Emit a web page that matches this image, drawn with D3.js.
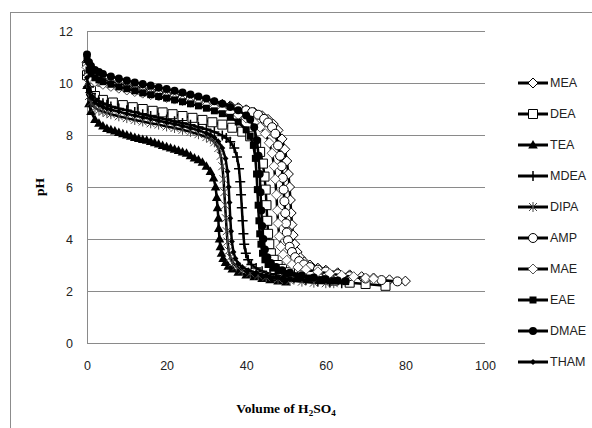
<!DOCTYPE html>
<html>
<head>
<meta charset="utf-8">
<script src="https://cdn.jsdelivr.net/npm/d3@7"></script>
<style>
body { margin: 0; background: #fff; }
</style>
</head>
<body>
<div id="chart"></div>
<script>
// size of SVG
var w = 592;
var h = 428;

// legend order = drawing order
var names = ["MEA", "DEA", "TEA", "MDEA", "DIPA", "AMP", "MAE", "EAE", "DMAE", "THAM"];
var xTicks = [0, 20, 40, 60, 80, 100];
var yTicks = [0, 2, 4, 6, 8, 10, 12];

// [volume of H2SO4, pH]
var meaData = [[0,10.8],[0.5,10.5],[1,10.35],[2,10.22],[3,10.15],[4,10.1],[6,10.02],[8,9.95],[10,9.88],[12,9.82],[14,9.76],[16,9.7],[18,9.64],[20,9.58],[22,9.53],[24,9.47],[26,9.42],[28,9.36],[30,9.3],[32,9.24],[34,9.18],[36,9.12],[38,9.05],[40,8.97],[42,8.87],[44,8.74],[45.5,8.6],[46.8,8.42],[48,8.18],[49,7.85],[49.7,7.45],[50.2,7.0],[50.6,6.5],[50.9,6.0],[51.1,5.5],[51.3,5.0],[51.5,4.55],[51.8,4.15],[52.2,3.8],[52.8,3.5],[53.6,3.28],[54.6,3.12],[56,3.0],[58,2.88],[60,2.8],[63,2.7],[66,2.62],[69,2.55],[72,2.5],[76,2.43],[80,2.38]];
var deaData = [[0,10.3],[1,9.7],[2,9.5],[4,9.35],[6.5,9.25],[9,9.15],[11.5,9.07],[14,9.0],[16.5,8.93],[19,8.87],[21.5,8.8],[24,8.73],[26.5,8.66],[29,8.58],[31.5,8.49],[34,8.4],[36.5,8.28],[39,8.13],[41,7.95],[42.5,7.7],[43.5,7.35],[44.2,6.9],[44.6,6.4],[44.9,5.9],[45.1,5.3],[45.3,4.7],[45.5,4.2],[45.8,3.8],[46.2,3.45],[46.9,3.2],[47.9,3.0],[49,2.85],[51,2.72],[54,2.6],[58,2.48],[62,2.4],[66,2.32],[70,2.27],[75,2.2]];
var teaData = [[0,9.9],[0.5,9.2],[1,8.9],[2,8.6],[3,8.45],[4,8.35],[5,8.25],[6,8.2],[7,8.15],[8,8.1],[9,8.05],[10,8.0],[11,7.95],[12,7.9],[13,7.87],[14,7.83],[15,7.8],[16,7.75],[17,7.7],[18,7.65],[19,7.6],[20,7.55],[21,7.5],[22,7.45],[23,7.4],[24,7.35],[25,7.3],[26,7.2],[27,7.12],[28,7.05],[29,6.95],[30,6.8],[31,6.6],[31.8,6.35],[32.3,6.0],[32.6,5.6],[32.8,5.2],[33,4.8],[33.1,4.4],[33.3,4.0],[33.5,3.7],[33.8,3.45],[34.2,3.25],[34.8,3.1],[35.5,2.95],[36.5,2.85],[38,2.72],[40,2.62],[42,2.55],[44,2.48],[46,2.43],[48,2.38],[50,2.35]];
var mdeaData = [[0,10.3],[0.5,9.85],[1,9.6],[2,9.4],[3,9.3],[4,9.22],[5,9.16],[6,9.1],[8,9.02],[10,8.95],[12,8.88],[14,8.8],[16,8.73],[18,8.66],[20,8.6],[22,8.53],[24,8.46],[26,8.39],[28,8.31],[30,8.22],[32,8.12],[34,7.98],[35,7.88],[36,7.74],[37,7.5],[37.7,7.15],[38.2,6.7],[38.5,6.2],[38.7,5.7],[38.9,5.2],[39.1,4.7],[39.3,4.2],[39.5,3.8],[39.9,3.45],[40.5,3.2],[41.3,3.02],[42.5,2.88],[44,2.76],[46,2.66],[49,2.56],[52,2.48],[55,2.42],[58,2.37],[61,2.33],[64,2.3]];
var dipaData = [[0,10.0],[0.5,9.5],[1,9.25],[2,9.05],[3,8.95],[4,8.9],[5,8.85],[6,8.8],[8,8.72],[10,8.65],[12,8.58],[14,8.52],[16,8.45],[18,8.4],[20,8.33],[22,8.27],[24,8.2],[26,8.12],[28,8.03],[30,7.92],[31,7.85],[32,7.72],[33,7.5],[33.6,7.2],[34,6.8],[34.3,6.3],[34.5,5.8],[34.7,5.3],[34.9,4.8],[35.1,4.3],[35.3,3.9],[35.6,3.55],[36,3.3],[36.6,3.1],[37.5,2.95],[39,2.8],[41,2.68],[43,2.6],[45,2.53],[48,2.46],[51,2.4],[54,2.36],[57,2.32],[60,2.3],[62,2.3]];
var ampData = [[0,10.7],[0.5,10.4],[1,10.25],[2,10.12],[3,10.05],[4,10.0],[6,9.92],[8,9.85],[10,9.78],[12,9.72],[14,9.66],[16,9.6],[18,9.55],[20,9.5],[22,9.45],[24,9.4],[26,9.35],[28,9.3],[30,9.25],[32,9.2],[34,9.14],[36,9.08],[38,9.02],[40,8.95],[41.5,8.88],[43,8.78],[44.5,8.62],[45.5,8.48],[46.5,8.3],[47.3,8.05],[48,7.6],[48.5,7.2],[48.9,6.8],[49.2,6.35],[49.4,5.9],[49.6,5.45],[49.8,5.0],[50,4.6],[50.2,4.25],[50.5,3.95],[50.9,3.7],[51.5,3.5],[52.3,3.3],[53.3,3.15],[54.5,3.02],[56,2.92],[58,2.82],[60,2.75],[63,2.65],[66,2.57],[70,2.48],[74,2.42],[78,2.37]];
var maeData = [[0,10.6],[0.5,10.3],[1,10.15],[2,10.05],[4,9.95],[6,9.87],[8,9.8],[10,9.73],[12,9.67],[14,9.61],[16,9.55],[18,9.5],[20,9.44],[22,9.38],[24,9.32],[26,9.26],[28,9.2],[30,9.13],[32,9.05],[34,8.97],[36,8.88],[38,8.78],[40,8.65],[42,8.48],[43.5,8.3],[44.8,8.05],[45.8,7.7],[46.5,7.3],[47,6.8],[47.3,6.3],[47.6,5.7],[47.8,5.1],[48,4.6],[48.3,4.1],[48.7,3.7],[49.3,3.4],[50.2,3.18],[51.5,3.02],[53,2.92],[55,2.83],[58,2.74],[61,2.67],[64,2.6],[67,2.55],[70,2.5],[72,2.47]];
var eaeData = [[0,10.9],[0.5,10.5],[1,10.35],[2,10.2],[3,10.12],[4,10.05],[6,9.95],[8,9.85],[10,9.78],[12,9.7],[14,9.62],[16,9.55],[18,9.48],[20,9.42],[22,9.35],[24,9.28],[26,9.2],[28,9.12],[30,9.03],[32,8.93],[34,8.82],[36,8.68],[38,8.5],[40,8.2],[41,7.95],[41.8,7.6],[42.3,7.1],[42.6,6.5],[42.8,5.9],[43,5.3],[43.2,4.7],[43.4,4.2],[43.7,3.8],[44.1,3.45],[44.7,3.2],[45.5,3.02],[46.7,2.88],[48,2.78],[50,2.68],[53,2.58],[56,2.5],[59,2.44],[62,2.4],[65,2.36]];
var dmaeData = [[0,11.1],[0.5,10.8],[1,10.65],[2,10.5],[3,10.42],[4,10.35],[6,10.25],[8,10.17],[10,10.1],[12,10.02],[14,9.96],[16,9.9],[18,9.83],[20,9.77],[22,9.7],[24,9.63],[26,9.56],[28,9.48],[30,9.4],[32,9.3],[34,9.2],[36,9.08],[38,8.95],[40,8.75],[41,8.6],[42,8.3],[42.7,7.8],[43.1,7.2],[43.4,6.5],[43.6,5.8],[43.8,5.1],[44,4.5],[44.3,4.0],[44.7,3.6],[45.3,3.3],[46.2,3.08],[47.5,2.92],[49,2.8],[51,2.7],[54,2.6],[57,2.52],[60,2.45],[63,2.4],[65,2.38]];
var thamData = [[0,10.2],[0.5,9.7],[1,9.45],[2,9.25],[3,9.15],[4,9.08],[5,9.02],[6,8.97],[8,8.9],[10,8.82],[12,8.75],[14,8.68],[16,8.62],[18,8.55],[20,8.48],[22,8.42],[24,8.35],[26,8.27],[28,8.18],[30,8.07],[31,8.0],[32,7.9],[33,7.75],[34,7.5],[34.8,7.1],[35.3,6.6],[35.6,6.0],[35.8,5.4],[36,4.8],[36.2,4.3],[36.4,3.9],[36.8,3.5],[37.3,3.25],[38,3.05],[39,2.92],[40.5,2.8],[42.5,2.7],[45,2.6],[48,2.52],[51,2.45],[55,2.4]];

var allData = [meaData, deaData, teaData, mdeaData, dipaData, ampData, maeData, eaeData, dmaeData, thamData];
// marker kind for each series (same order as names)
var markerKinds = ["diamond", "square", "triangle", "plus", "star", "circle", "diamondGray", "squareFill", "circleFill", "diamondFill"];

var svg = d3.select("#chart")
	.append("svg")
	.attr("width", w)
	.attr("height", h)
	.attr("xmlns", "http://www.w3.org/2000/svg");

// chart area border (runs off the right and bottom edges)
svg.append("rect")
	.attr("x", 10.5).attr("y", 12.5)
	.attr("width", w + 20).attr("height", h + 20)
	.attr("fill", "#fff")
	.attr("stroke", "#8c8c8c");

// plot area edges, in pixels ("top" is taken by window.top)
var pLeft = 87, pRight = 485, pTop = 31, pBottom = 343;
var x = d3.scaleLinear().domain([0, 100]).range([pLeft, pRight]);
var y = d3.scaleLinear().domain([0, 12]).range([pBottom, pTop]);

// horizontal grid lines
var grid = svg.append("g")
	.attr("transform", "translate(" + pLeft + ",0)")
	.call(d3.axisLeft(y).tickValues(yTicks).tickSize(-(pRight - pLeft)).tickFormat(""));
grid.select(".domain").remove();
grid.selectAll("line").attr("stroke", "#8a8a8a").attr("shape-rendering", "crispEdges");

// vertical axis line
svg.append("line")
	.attr("x1", pLeft + 0.5).attr("x2", pLeft + 0.5)
	.attr("y1", pTop).attr("y2", pBottom)
	.attr("stroke", "#8a8a8a");

var tickFont = "'Liberation Sans', Arial, sans-serif";
var yAxis = svg.append("g")
	.attr("transform", "translate(" + pLeft + ",0)")
	.call(d3.axisLeft(y).tickValues(yTicks).tickSize(0).tickPadding(14));
yAxis.select(".domain").remove();
yAxis.selectAll("text").attr("font-family", tickFont).attr("font-size", 12.5).attr("fill", "#222");

var xAxis = svg.append("g")
	.attr("transform", "translate(0," + pBottom + ")")
	.call(d3.axisBottom(x).tickValues(xTicks).tickSize(0).tickPadding(18));
xAxis.select(".domain").remove();
xAxis.selectAll("text").attr("font-family", tickFont).attr("font-size", 12.5).attr("fill", "#222");

// axis titles
svg.append("text")
	.attr("transform", "translate(44," + ((pTop + pBottom) / 2) + ") rotate(-90)")
	.attr("text-anchor", "middle")
	.attr("font-family", "'Liberation Serif', 'Times New Roman', serif")
	.attr("font-weight", "bold")
	.attr("font-size", 13.5)
	.text("pH");

var xt = svg.append("text")
	.attr("x", (pLeft + pRight) / 2)
	.attr("y", 413)
	.attr("text-anchor", "middle")
	.attr("font-family", "'Liberation Serif', 'Times New Roman', serif")
	.attr("font-weight", "bold")
	.attr("font-size", 13.5);
xt.append("tspan").text("Volume of H");
xt.append("tspan").attr("font-size", 9).attr("dy", 3).text("2");
xt.append("tspan").attr("dy", -3).text("SO");
xt.append("tspan").attr("font-size", 9).attr("dy", 3).text("4");

// marker path around 0,0
function markerPath(kind) {
	var p = d3.path();
	if (kind == "diamond" || kind == "diamondGray") {
		p.moveTo(0, -5); p.lineTo(5, 0); p.lineTo(0, 5); p.lineTo(-5, 0); p.closePath();
	} else if (kind == "diamondFill") {
		p.moveTo(0, -3); p.lineTo(3, 0); p.lineTo(0, 3); p.lineTo(-3, 0); p.closePath();
	} else if (kind == "square") {
		p.rect(-4.5, -4.5, 9, 9);
	} else if (kind == "squareFill") {
		p.rect(-3.5, -3.5, 7, 7);
	} else if (kind == "triangle") {
		p.moveTo(0, -5); p.lineTo(4.8, 3.5); p.lineTo(-4.8, 3.5); p.closePath();
	} else if (kind == "plus") {
		p.moveTo(-5, 0); p.lineTo(5, 0); p.moveTo(0, -5); p.lineTo(0, 5);
	} else if (kind == "star") {
		p.moveTo(-4, -4); p.lineTo(4, 4); p.moveTo(-4, 4); p.lineTo(4, -4);
		p.moveTo(0, -5); p.lineTo(0, 5);
	} else if (kind == "circle") {
		p.arc(0, 0, 4.5, 0, 2 * Math.PI);
	} else if (kind == "circleFill") {
		p.arc(0, 0, 4, 0, 2 * Math.PI);
	}
	return p.toString();
}
function markerStyle(sel, kind) {
	if (kind == "diamond" || kind == "square" || kind == "circle") {
		sel.attr("fill", "#fff").attr("stroke", "#000").attr("stroke-width", 1);
	} else if (kind == "diamondGray") {
		sel.attr("fill", "#fff").attr("stroke", "#555").attr("stroke-width", 1);
	} else if (kind == "plus") {
		sel.attr("fill", "none").attr("stroke", "#000").attr("stroke-width", 1.5);
	} else if (kind == "star") {
		sel.attr("fill", "none").attr("stroke", "#444").attr("stroke-width", 1);
	} else {
		sel.attr("fill", "#000").attr("stroke", "none");
	}
}

var line = d3.line()
	.x(function(d) { return x(d[0]); })
	.y(function(d) { return y(d[1]); });

// series: line then markers, in legend order
for (var i = 0; i < names.length; i++) {
	var g = svg.append("g").attr("class", "series");
	g.append("path")
		.datum(allData[i])
		.attr("d", line)
		.attr("fill", "none")
		.attr("stroke", "#000")
		.attr("stroke-width", 2.5)
		.attr("stroke-linejoin", "round");
	var m = g.selectAll(".mk").data(allData[i]).enter().append("path")
		.attr("class", "mk")
		.attr("d", markerPath(markerKinds[i]))
		.attr("transform", function(d) { return "translate(" + x(d[0]) + "," + y(d[1]) + ")"; });
	markerStyle(m, markerKinds[i]);
}

// legend
var lg = svg.append("g").attr("class", "legend");
for (var i = 0; i < names.length; i++) {
	var ly = 83 + 31 * i;
	lg.append("line")
		.attr("x1", 518).attr("x2", 548)
		.attr("y1", ly).attr("y2", ly)
		.attr("stroke", "#000").attr("stroke-width", 3);
	var lm = lg.append("path")
		.attr("d", markerPath(markerKinds[i]))
		.attr("transform", "translate(533," + ly + ")");
	markerStyle(lm, markerKinds[i]);
	lg.append("text")
		.attr("x", 550).attr("y", ly)
		.attr("dy", "0.35em")
		.attr("font-family", tickFont)
		.attr("font-size", 12.5)
		.attr("fill", "#222")
		.text(names[i]);
}
</script>
</body>
</html>
